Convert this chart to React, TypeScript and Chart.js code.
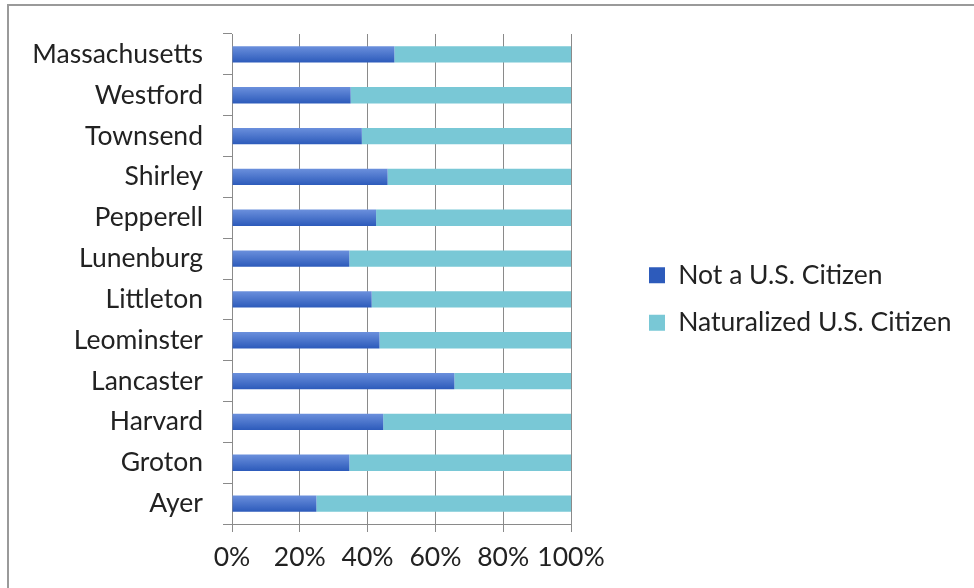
import React, { useEffect, useRef } from "react";
import { Chart, registerables } from "chart.js";

Chart.register(...registerables);

const categories = [
  "Massachusetts",
  "Westford",
  "Townsend",
  "Shirley",
  "Pepperell",
  "Lunenburg",
  "Littleton",
  "Leominster",
  "Lancaster",
  "Harvard",
  "Groton",
  "Ayer",
];

const notCitizen = [47.9, 35.0, 38.3, 45.9, 42.5, 34.6, 41.2, 43.5, 65.6, 44.6, 34.6, 24.9];
const naturalized = notCitizen.map((v) => 100 - v);

const xTicks = [0, 20, 40, 60, 80, 100];

const FONT = "Lato, 'Open Sans', sans-serif";
const FS = 26.5;

const legendPlace = {
  id: "legendPlace",
  afterLayout(chart: any) {
    const lg = chart.legend;
    if (!lg) return;
    const w = lg.width;
    const h = lg.height;
    lg.left = 619;
    lg.right = 619 + w;
    lg.top = 235;
    lg.bottom = 235 + h;
  },
};

export default function App() {
  const ref = useRef<HTMLCanvasElement | null>(null);

  useEffect(() => {
    if (!ref.current) return;
    const chart = new Chart(ref.current, {
      type: "bar",
      data: {
        labels: categories,
        datasets: [
          {
            label: "Not a U.S. Citizen",
            data: notCitizen,
            backgroundColor: (ctx: any) => {
              const c = ctx.chart;
              const ys = c.scales && c.scales.y;
              if (!ys || ctx.type !== "data") return "#4472c4";
              const yc = ys.getPixelForValue(ctx.dataIndex);
              if (!isFinite(yc)) return "#4472c4";
              const g = c.ctx.createLinearGradient(0, yc - 8, 0, yc + 8);
              g.addColorStop(0, "#6a8fdc");
              g.addColorStop(1, "#2d5bbb");
              return g;
            },
            borderWidth: 0,
            barPercentage: 0.4,
            categoryPercentage: 1,
          },
          {
            label: "Naturalized U.S. Citizen",
            data: naturalized,
            backgroundColor: "#79c8d6",
            borderWidth: 0,
            barPercentage: 0.4,
            categoryPercentage: 1,
          },
        ],
      },
      plugins: [legendPlace],
      options: {
        indexAxis: "y",
        responsive: false,
        animation: false,
        layout: { padding: { left: 0, right: 403, top: 28, bottom: 0 } },
        scales: {
          x: {
            stacked: true,
            min: 0,
            max: 100,
            afterBuildTicks: (axis: any) => {
              axis.ticks = xTicks.map((v) => ({ value: v }));
            },
            afterFit: (scale: any) => {
              scale.height = 64;
              scale.paddingLeft = 0;
              scale.paddingRight = 0;
            },
            ticks: {
              callback: (v: any) => v + "%",
              color: "#222",
              font: { family: FONT, size: FS },
              padding: 10,
              maxRotation: 0,
              autoSkip: false,
            },
            grid: { color: "#8a8a8a", lineWidth: 1, tickLength: 8 },
            border: { color: "#8a8a8a" },
          },
          y: {
            stacked: true,
            afterFit: (scale: any) => {
              scale.width = 223;
              scale.paddingTop = 0;
              scale.paddingBottom = 0;
            },
            ticks: {
              color: "#222",
              font: { family: FONT, size: FS },
              padding: 20,
              autoSkip: false,
            },
            grid: {
              drawOnChartArea: false,
              offset: true,
              color: "#8a8a8a",
              tickLength: 9,
            },
            border: { color: "#8a8a8a" },
          },
        },
        plugins: {
          legend: {
            position: "chartArea",
            align: "start",
            labels: {
              font: { family: FONT, size: FS },
              color: "#222",
              boxWidth: 16,
              boxHeight: 16,
              padding: 21,
            },
          },
          tooltip: { enabled: false },
        },
      },
    });
    return () => chart.destroy();
  }, []);

  return (
    <div
      style={{
        position: "absolute",
        left: 7,
        top: 4,
        width: 967,
        height: 584,
        borderTop: "2px solid #9a9a9a",
        borderLeft: "2px solid #9a9a9a",
        boxSizing: "border-box",
        background: "#fff",
      }}
    >
      <canvas ref={ref} width={965} height={582} style={{ display: "block" }} />
    </div>
  );
}
